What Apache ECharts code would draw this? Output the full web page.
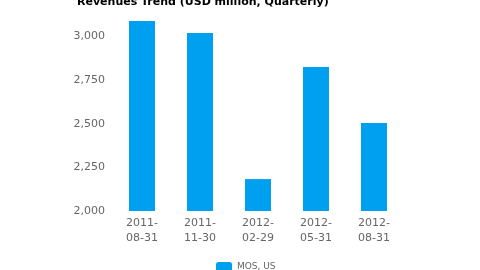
<!DOCTYPE html>
<html><head><meta charset="utf-8">
<script src="https://cdn.jsdelivr.net/npm/echarts@6/dist/echarts.min.js"></script>
<style>html,body{margin:0;padding:0;background:#fff}#c{width:480px;height:270px}</style>
</head><body><div id="c"></div>
<script>
const categories = ['2011-08-31','2011-11-30','2012-02-29','2012-05-31','2012-08-31'];
const revenues = [3089, 3020, 2183, 2825, 2504];
const seriesName = 'MOS, US';
const titleText = 'Revenues Trend (USD million, Quarterly)';

const chart = echarts.init(document.getElementById('c'), null, {renderer: 'canvas'});
chart.setOption({
  animation: false,
  title: {
    text: titleText, left: 72, top: -8,
    textStyle: {fontFamily: 'DejaVu Sans', fontSize: 11, fontWeight: 'bold', color: '#000'}
  },
  legend: {
    data: [seriesName], top: 262, left: 216, padding: 0, itemWidth: 16, itemHeight: 10, itemGap: 5,
    icon: 'roundRect',
    textStyle: {fontFamily: 'DejaVu Sans', fontSize: 9, color: '#666'}
  },
  grid: {left: 113, right: 77, top: 21, bottom: 59},
  xAxis: {
    type: 'category', data: categories,
    axisLine: {show: false}, axisTick: {show: false},
    axisLabel: {
      fontFamily: 'DejaVu Sans', fontSize: 11, color: '#666', margin: 5, lineHeight: 15,
      formatter: v => v.slice(0,5) + '\n' + v.slice(5)
    }
  },
  yAxis: {
    type: 'value', min: 2000, max: 3089, interval: 250,
    axisLine: {show: false}, axisTick: {show: false}, splitLine: {show: false},
    axisLabel: {
      fontFamily: 'DejaVu Sans', fontSize: 11, color: '#666', margin: 8, showMaxLabel: false,
      formatter: v => (v % 250 === 0) ? v.toLocaleString('en-US') : ''
    }
  },
  series: [{
    name: seriesName, type: 'bar', data: revenues, barWidth: 26,
    itemStyle: {color: '#00a0f0'}
  }]
});
</script></body></html>
